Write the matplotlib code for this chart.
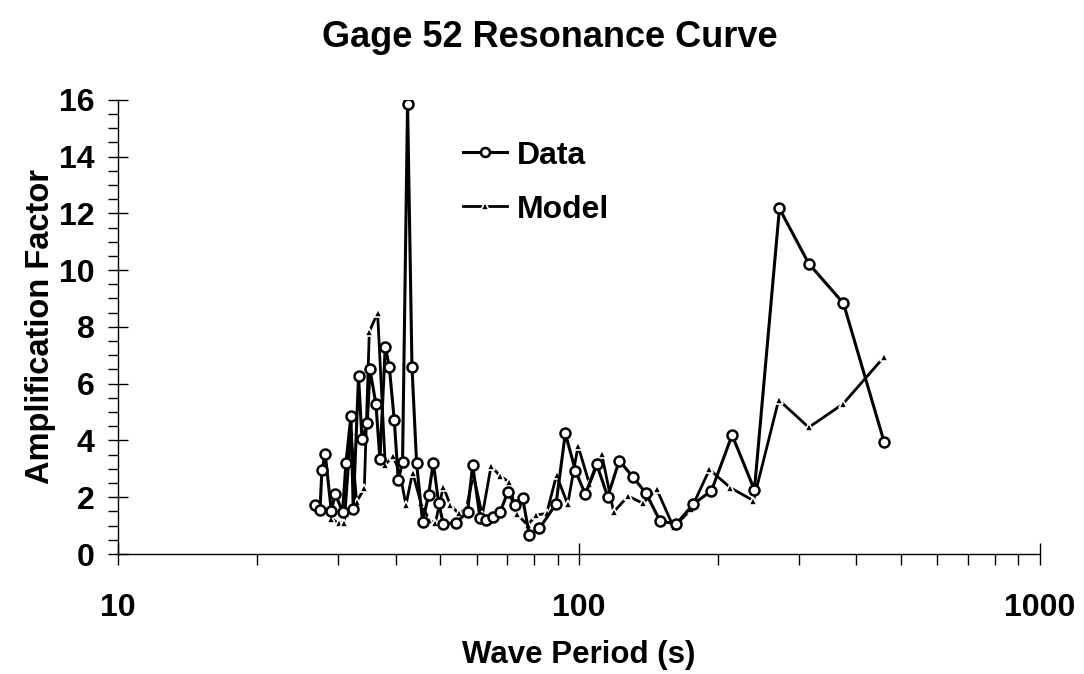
import matplotlib
matplotlib.use("Agg")
import matplotlib.pyplot as plt
from matplotlib.ticker import FixedLocator, NullFormatter, MultipleLocator

plt.rcParams['font.family'] = ['Liberation Sans', 'DejaVu Sans']
plt.rcParams['font.weight'] = 'bold'

# --- data ---

data_period = [26.78, 27.42, 27.69, 28.15, 29.01, 29.60, 30.70, 31.22, 32.01, 32.38,
               33.25, 33.82, 34.73, 35.20, 36.27, 37.00, 38.00, 38.77, 39.75, 40.55,
               41.43, 42.48, 43.43, 44.44, 45.79, 47.18, 48.31, 49.61, 50.79, 54.13,
               57.36, 58.81, 61.03, 62.89, 65.22, 67.45, 70.06, 72.70, 75.51, 78.08,
               82.08, 89.21, 93.46, 98.27, 103.3, 109.3, 115.5, 122.4, 130.9, 139.9,
               150.1, 162.8, 177.3, 194.0, 215.1, 240.5, 272.5, 315.5, 375.3, 460.0]
data_amp = [1.72, 1.55, 2.96, 3.52, 1.53, 2.11, 1.49, 3.20, 4.87, 1.58,
            6.27, 4.05, 4.60, 6.50, 5.28, 3.34, 7.30, 6.60, 4.72, 2.60,
            3.25, 15.86, 6.58, 3.20, 1.14, 2.08, 3.22, 1.81, 1.06, 1.10,
            1.49, 3.14, 1.26, 1.20, 1.29, 1.47, 2.17, 1.73, 1.96, 0.67,
            0.90, 1.76, 4.25, 2.94, 2.10, 3.17, 2.02, 3.29, 2.72, 2.14,
            1.16, 1.06, 1.76, 2.23, 4.19, 2.26, 12.17, 10.23, 8.83, 3.94]

model_period = [29.01, 30.09, 30.96, 32.01, 32.92, 34.22, 35.09, 36.57, 38.00, 39.41,
                40.75, 42.14, 43.56, 45.43, 47.34, 48.79, 50.79, 52.60, 54.83, 56.97,
                59.02, 61.73, 64.48, 67.45, 70.39, 73.28, 77.42, 80.74, 85.13, 89.45,
                94.56, 99.6, 105.4, 112.1, 119.0, 127.9, 137.6, 147.6, 160.6, 175.1,
                192.1, 213.0, 239.3, 271.5, 315.5, 374.1, 459.1]
model_amp = [1.25, 1.08, 1.10, 4.30, 1.84, 2.31, 7.83, 8.50, 3.14, 3.45,
             2.96, 1.73, 2.87, 1.79, 1.20, 1.08, 2.37, 1.73, 1.43, 1.61,
             2.78, 1.37, 3.10, 2.75, 2.55, 1.41, 1.02, 1.37, 1.43, 2.78,
             1.75, 3.81, 2.47, 3.52, 1.48, 2.04, 1.79, 2.28, 0.94, 1.57,
             2.98, 2.34, 1.88, 5.43, 4.46, 5.28, 6.93]

# --- plot ---

fig = plt.figure(figsize=(10.84, 6.74), dpi=100)
ax = fig.add_axes([0.109, 0.178, 0.850, 0.674])

ax.plot(model_period, model_amp, color="black", lw=2.0, marker="^", ms=6,
        mfc="black", mec="white", mew=1.2, label="Model", zorder=2)
ax.plot(data_period, data_amp, color="black", lw=2.2, marker="o", ms=7.2,
        mfc="white", mec="black", mew=1.8, label="Data", zorder=3)

ax.set_xscale("log")
ax.set_xlim(10, 1000)
ax.set_ylim(0, 16)

ax.spines["top"].set_visible(False)
ax.spines["right"].set_visible(False)
ax.spines["left"].set_linewidth(1.0)
ax.spines["bottom"].set_linewidth(1.0)

ax.xaxis.set_major_locator(FixedLocator([10, 100, 1000]))
ax.xaxis.set_minor_locator(FixedLocator([k * d for d in (10, 100) for k in range(2, 10)]))
ax.xaxis.set_minor_formatter(NullFormatter())
ax.set_xticklabels(["10", "100", "1000"])
ax.yaxis.set_major_locator(MultipleLocator(2))
ax.yaxis.set_minor_locator(MultipleLocator(0.5))

ax.tick_params(axis="x", which="major", direction="inout", length=16, width=1,
               labelsize=23, pad=20)
ax.tick_params(axis="x", which="minor", direction="out", length=8, width=1)
ax.tick_params(axis="y", which="major", direction="inout", length=14, width=1,
               labelsize=23, pad=10)
ax.tick_params(axis="y", which="minor", direction="out", length=7, width=1)
for lab in ax.get_xticklabels() + ax.get_yticklabels():
    lab.set_fontweight("bold")

ax.set_xlabel("Wave Period (s)", fontsize=22.5, fontweight="bold", labelpad=12)
ax.set_ylabel("Amplification Factor", fontsize=23.5, fontweight="bold", labelpad=2)

fig.text(0.507, 0.944, "Gage 52 Resonance Curve", ha="center", va="center",
         fontsize=26, fontweight="bold")

handles, labels = ax.get_legend_handles_labels()
leg = ax.legend(handles[::-1], labels[::-1], loc="upper left",
                bbox_to_anchor=(0.412, 0.815), bbox_transform=fig.transFigure,
                frameon=False, fontsize=23, handlelength=1.4, handletextpad=0.3,
                labelspacing=0.75, markerscale=0.9, borderpad=0)
for t in leg.get_texts():
    t.set_fontweight("bold")

fig.savefig("out.png", dpi=100)
